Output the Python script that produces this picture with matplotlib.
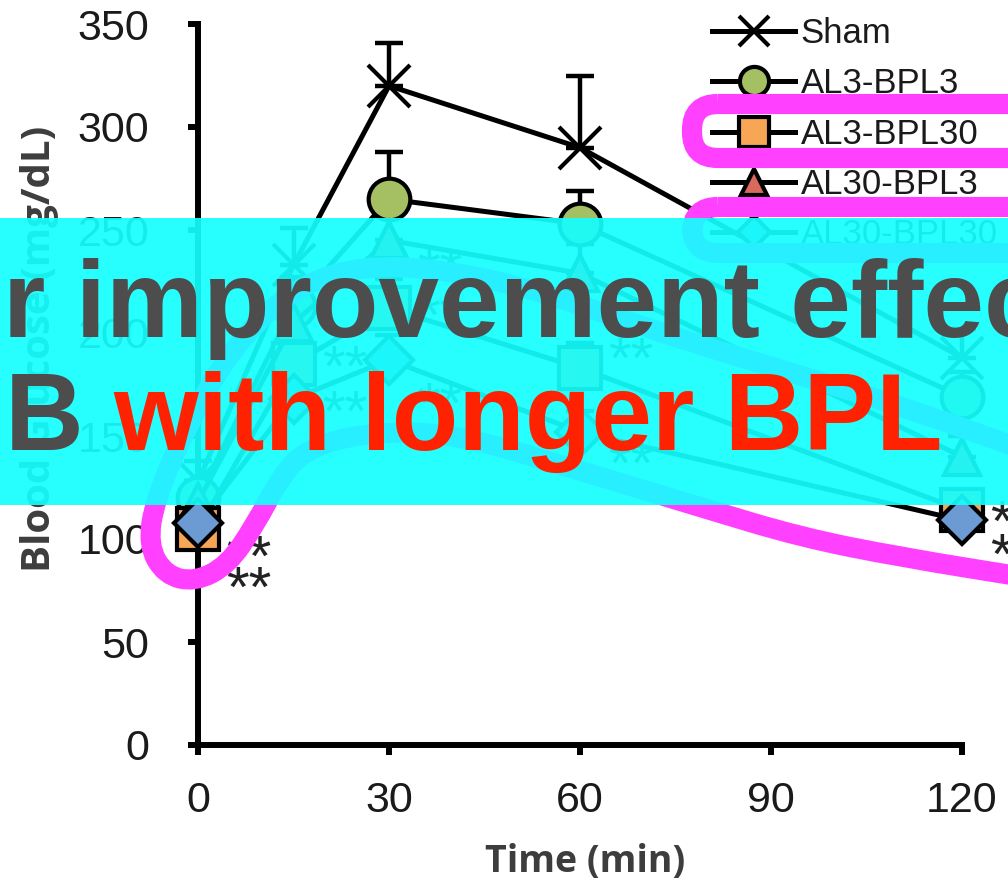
import numpy as np
import matplotlib
matplotlib.use('Agg')
import matplotlib.pyplot as plt
from matplotlib.path import Path
from matplotlib.patches import PathPatch, FancyBboxPatch, Rectangle

# glucose tolerance data (mg/dL)
time = [0, 15, 30, 60, 120]
sham = [128, 233, 320, 290, 188]
sham_err = [10, 18, 21, 35, 14]
al3_bpl3 = [120, 213, 265, 253, 169]
al3_bpl3_err = [8, 14, 23, 16, 12]
al3_bpl30 = [105, 185, 212, 183, 114]
al3_bpl30_err = [6, 12, 14, 12, 8]
al30_bpl3 = [118, 205, 245, 229, 140]
al30_bpl3_err = [7, 13, 15, 14, 10]
al30_bpl30 = [108, 168, 187, 152, 109]
al30_bpl30_err = [6, 11, 12, 10, 7]

labels = ['Sham', 'AL3-BPL3', 'AL3-BPL30', 'AL30-BPL3', 'AL30-BPL30']
xticks = [0, 30, 60, 90, 120]
yticks = [0, 50, 100, 150, 200, 250, 300, 350]

# significance marks: time of point, value of mark
sig_time = [0, 0, 15, 15, 30, 30, 30, 60, 60, 120, 120]
sig_value = [95, 80, 187, 165, 234, 212, 169, 191, 140, 112, 96]

series = [
    (sham, sham_err, 'x', 'black'),
    (al3_bpl3, al3_bpl3_err, 'o', '#a4c063'),
    (al3_bpl30, al3_bpl30_err, 's', '#f6a654'),
    (al30_bpl3, al30_bpl3_err, '^', '#d9695c'),
    (al30_bpl30, al30_bpl30_err, 'D', '#6b9bd2'),
]

fig = plt.figure(figsize=(10.08, 8.85), dpi=100)
ax = fig.add_axes([198/1008, 140/885, (962-198)/1008, (745-24)/885])

handles = []
for (vals, err, mk, col), lab in zip(series, labels):
    ax.errorbar(time, vals, yerr=[np.zeros(len(err)), err], fmt='none',
                ecolor='black', elinewidth=3.2, capsize=10, capthick=3.2,
                zorder=3, clip_on=False)
    ms = 30 if mk != 'D' else 24
    if mk == '^':
        ms = 26
    h, = ax.plot(time, vals, color='black', lw=3.6, marker=mk, ms=ms,
                 mfc=col, mec='black', mew=3.0, zorder=4, clip_on=False,
                 label=lab)
    handles.append(h)

for t, v in zip(sig_time, sig_value):
    ax.annotate('**', xy=(t + 8, v), xytext=(0, -8), textcoords='offset points',
                ha='center', va='center', fontsize=42, family='Liberation Sans',
                color='#222222', annotation_clip=False)

ax.set_xlim(0, 120)
ax.set_ylim(0, 350)
ax.set_xticks(xticks)
ax.set_yticks(yticks)
for s in ['top', 'right']:
    ax.spines[s].set_visible(False)
for s in ['left', 'bottom']:
    ax.spines[s].set_linewidth(4.3)
ax.tick_params(axis='both', direction='out', length=7, width=4.3,
               labelsize=31, colors='black', labelcolor='#1a1a1a')
ax.tick_params(axis='y', pad=28)
ax.tick_params(axis='x', pad=19)
for lab in ax.get_xticklabels() + ax.get_yticklabels():
    lab.set_family('Liberation Sans')

ax.text(40/1008, 1 - 349/885, 'Blood Glucose (mg/dL)', transform=fig.transFigure,
        rotation=90, ha='center', va='center', fontsize=29, fontweight='bold',
        family='Open Sans', color='#3d3d3d')
ax.text(585/1008, 1 - 862/885, 'Time (min)', transform=fig.transFigure,
        ha='center', va='center', fontsize=27, fontweight='bold',
        family='Open Sans', color='#3d3d3d')

leg = ax.legend(handles, labels, loc='upper left',
                bbox_to_anchor=(712/1008, 1 - 17/885), bbox_transform=fig.transFigure,
                frameon=False, fontsize=25, handlelength=2.4, handletextpad=0.15,
                labelspacing=0.5, borderpad=0, borderaxespad=0, markerscale=0.7)
for t in leg.get_texts():
    t.set_family('Liberation Sans')
    t.set_color('#1a1a1a')

# overlay in pixel coordinates
ov = fig.add_axes([0, 0, 1, 1], zorder=10)
ov.set_xlim(0, 1008)
ov.set_ylim(885, 0)
ov.axis('off')
ov.patch.set_alpha(0)

pink = '#ff40ff'
for y0, y1 in [(104, 158), (207, 253)]:
    ov.add_patch(FancyBboxPatch((692, y0), 360, y1 - y0,
                                boxstyle='round,pad=0,rounding_size=26',
                                fill=False, ec=pink, lw=14.5, zorder=1))

lasso = [(1030, 452), (900, 405), (771, 367), (643, 327), (546, 293), (450, 270),
         (360, 265), (290, 290), (230, 350), (185, 430), (155, 500), (148, 545),
         (165, 575), (195, 582), (228, 565), (255, 525), (280, 478), (305, 450),
         (360, 433), (450, 432), (578, 470), (700, 507), (800, 537), (900, 557),
         (1030, 578)]
verts = [lasso[0]]
codes = [Path.MOVETO]
for i in range(1, len(lasso) - 1):
    mid = ((lasso[i][0] + lasso[i+1][0]) / 2, (lasso[i][1] + lasso[i+1][1]) / 2)
    verts += [lasso[i], mid]
    codes += [Path.CURVE3, Path.CURVE3]
verts.append(lasso[-1])
codes.append(Path.LINETO)
ov.add_patch(PathPatch(Path(verts, codes), fill=False, ec=pink, lw=14.5,
                       capstyle='round', joinstyle='round', zorder=1))

ov.add_patch(Rectangle((0, 218), 1008, 287, fc='#14ffff', ec='none',
                       alpha=0.92, zorder=2))

big = dict(fontsize=78.5, fontweight='bold', family='Liberation Sans',
           va='baseline', ha='left', zorder=3)
ov.text(3, 337, 'r improvement effec', color='#4d4d4d', **big)
ov.text(5, 450, 'B', color='#4d4d4d', **big)
ov.text(113, 450, 'with longer BPL', color='#ff2200', **big)

fig.savefig('out.png', dpi=100)
